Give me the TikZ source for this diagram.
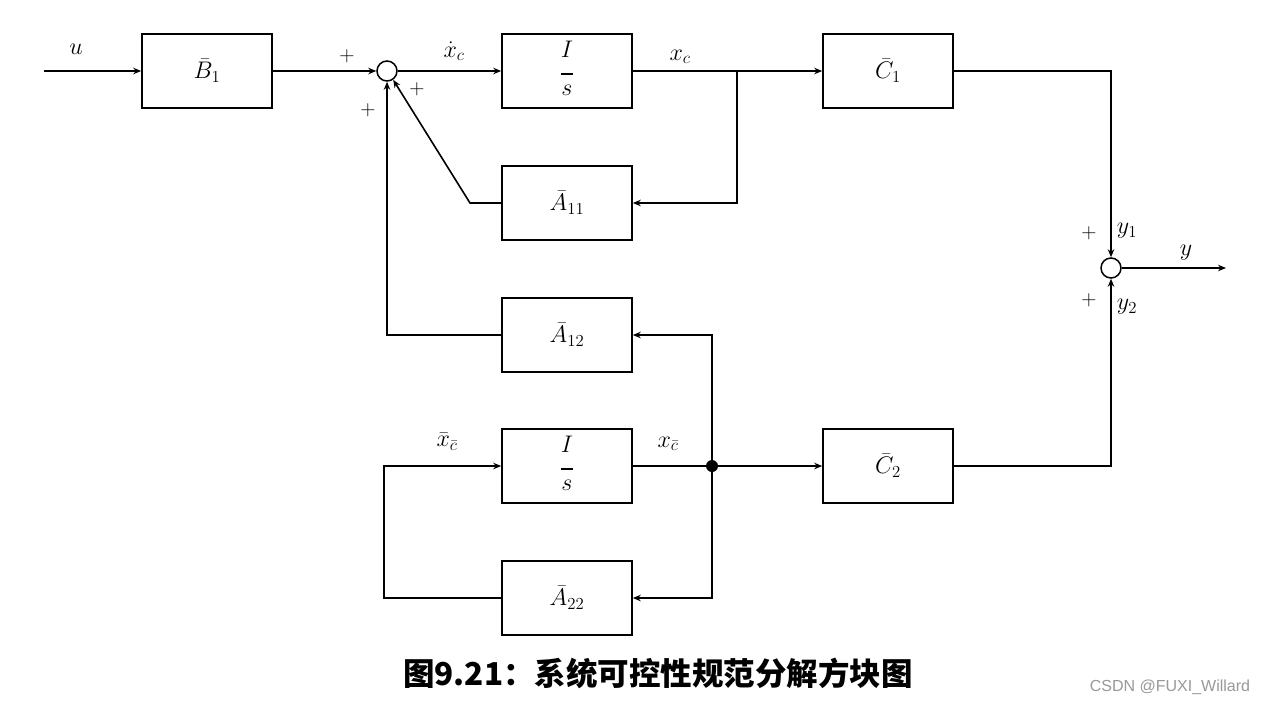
\RequirePackage{fix-cm}
\documentclass[tikz,border=0pt]{standalone}
\usepackage{fontspec}
\usetikzlibrary{arrows.meta}
\newfontfamily\cjk{Noto Sans CJK SC}
\newfontfamily\wmfont{Liberation Sans}
\begin{document}
\begin{tikzpicture}[x=1pt,y=-1pt,
  blk/.style={draw,line width=1.6pt,minimum width=130pt,minimum height=74pt,inner sep=0pt,font=\fontsize{24}{28}\selectfont},
  sumj/.style={draw,circle,line width=1.5pt,minimum size=20pt,inner sep=0pt},
  arr/.style={line width=1.6pt,-{Stealth[length=8pt,width=6.5pt]}},
  lab/.style={font=\fontsize{24}{28}\selectfont},
  pl/.style={font=\fontsize{21}{24}\selectfont}]
\useasboundingbox (0,0) rectangle (1266,705);
\fill[white] (0,0) rectangle (1266,705);
\newcommand{\intg}{\begin{tabular}{@{}c@{}}$I$\\[-11pt]\rule{12pt}{1.8pt}\\[-7pt]$s$\end{tabular}}
% blocks
\node[blk] (B1) at (207,71) {$\bar{B}_1$};
\node[blk] (I1) at (567,71) {\intg};
\node[blk] (C1) at (888,71) {$\bar{C}_1$};
\node[blk] (A11) at (567,203) {$\bar{A}_{11}$};
\node[blk] (A12) at (567,335) {$\bar{A}_{12}$};
\node[blk] (I2) at (567,466) {\intg};
\node[blk] (C2) at (888,466) {$\bar{C}_2$};
\node[blk] (A22) at (567,598) {$\bar{A}_{22}$};
\node[sumj] (S1) at (387,71) {};
\node[sumj] (S2) at (1111,268) {};
\fill (712,466) circle (6pt);
\coordinate (in) at (44,71);
\coordinate (out) at (1226,268);
\coordinate (br1) at (737,71);
\coordinate (dot) at (712,466);
% connections
\draw[arr] (in) -- (B1.west);
\draw[arr] (B1.east) -- (S1.west);
\draw[arr] (S1.east) -- (I1.west);
\draw[arr] (I1.east) -- (C1.west);
\draw[arr] (br1) -- (737,203) -- (A11.east);
\draw[arr] (A11.west) -- (470,203) -- (S1.-55);
\draw[arr] (A12.west) -- (387,335) -- (S1.south);
\draw[arr] (C1.east) -- (1111,71) -- (S2.north);
\draw[arr] (S2.east) -- (out);
\draw[arr] (C2.east) -- (1111,466) -- (S2.south);
\draw[arr] (I2.east) -- (C2.west);
\draw[arr] (dot) -- (712,335) -- (A12.east);
\draw[arr] (dot) -- (712,598) -- (A22.east);
\draw[arr] (A22.west) -- (384,598) -- (384,466) -- (I2.west);
% labels
\node[lab] at (76,49) {$u$};
\node[pl] at (347,56) {$+$};
\node[pl] at (417,89) {$+$};
\node[pl] at (368,110) {$+$};
\node[lab] at (454,51) {$\dot{x}_c$};
\node[lab] at (680,57) {$x_c$};
\node[lab] at (447,442) {$\bar{x}_{\bar{c}}$};
\node[lab] at (668,444) {$x_{\bar{c}}$};
\node[pl] at (1089,233) {$+$};
\node[pl] at (1089,300) {$+$};
\node[lab] at (1127,231) {$y_1$};
\node[lab] at (1127,307) {$y_2$};
\node[lab] at (1186,253) {$y$};
% caption
\node[font=\cjk\bfseries\fontsize{31.5}{34}\selectfont] at (658,673) {图9.21：系统可控性规范分解方块图};
\node[font=\wmfont\fontsize{16}{18}\selectfont,text=gray!80] at (1170,687) {CSDN @FUXI\_Willard};
\end{tikzpicture}
\end{document}
